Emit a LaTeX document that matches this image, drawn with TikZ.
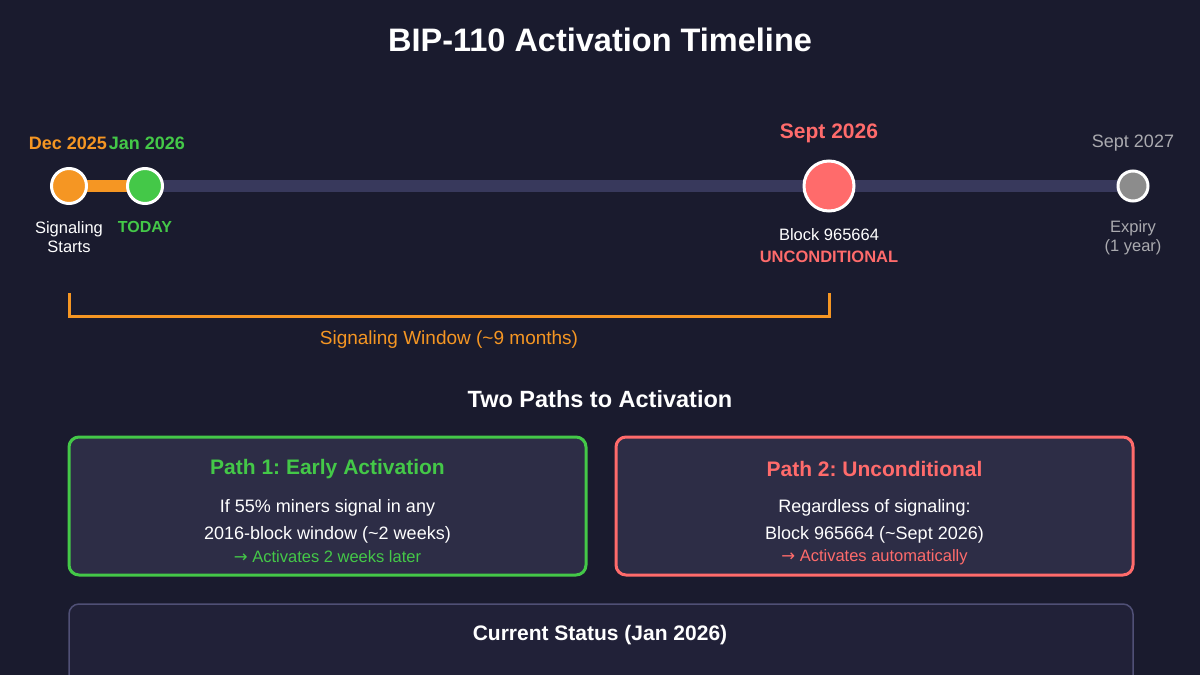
\documentclass[tikz,border=0pt]{standalone}
\usepackage{fontspec}
\setmainfont{Liberation Sans}
\newfontfamily\arrowfont{DejaVu Sans}
\frenchspacing
\usetikzlibrary{positioning}
\definecolor{bipbg}{RGB}{26, 27, 46}
\definecolor{biptrack}{RGB}{56, 57, 92}
\definecolor{biporange}{RGB}{245, 150, 35}
\definecolor{bipgreen}{RGB}{68, 200, 72}
\definecolor{bipred}{RGB}{255, 107, 107}
\definecolor{bipgray}{RGB}{140, 140, 140}
\definecolor{biplight}{RGB}{170, 170, 175}
\definecolor{bipbox}{RGB}{45, 45, 70}
\definecolor{bipstatus}{RGB}{33, 33, 56}
\definecolor{bipedge}{RGB}{80, 80, 118}

\begin{document}
\begin{tikzpicture}[x=1pt, y=-1pt,
    dot/.style={circle, draw=white, line width=3pt, inner sep=0pt},
    track/.style={biptrack, line width=12pt},
    datelbl/.style={font=\fontsize{18}{22}\selectfont\bfseries},
    sublbl/.style={font=\fontsize{16.5}{19}\selectfont, align=center},
    pathbox/.style={line width=3pt, rounded corners=10pt, fill=bipbox},
    boxhead/.style={font=\fontsize{21}{25}\selectfont\bfseries},
    boxtxt/.style={font=\fontsize{18}{22}\selectfont, text=white},
    boxnote/.style={font=\fontsize{16.5}{20}\selectfont}]

% === Fondo ===
\fill[bipbg] (0, 0) rectangle (1200, 675);
\useasboundingbox (0, 0) rectangle (1200, 675);
\clip (0, 0) rectangle (1200, 675);

\node[font=\fontsize{32.5}{38}\selectfont\bfseries, text=white] (title) at (600, 40) {BIP-110 Activation Timeline};

% === Linea de tiempo ===
\coordinate (tdec) at (69, 186);
\coordinate (tjan) at (145, 186);
\coordinate (tsep) at (829, 186);
\coordinate (texp) at (1133, 186);
\draw[track] (tjan) -- (texp);
\draw[track, biporange] (tdec) -- (tjan);

\node[dot, fill=biporange, minimum size=35pt] (dec) at (tdec) {};
\node[dot, fill=bipgreen, minimum size=35pt] (jan) at (tjan) {};
\node[dot, fill=bipred, minimum size=50pt] (sep) at (tsep) {};
\node[dot, fill=bipgray, minimum size=30pt] (exp) at (texp) {};

% Fechas
\node[datelbl, text=biporange] (declbl) at (68, 143) {Dec 2025};
\node[datelbl, text=bipgreen] (janlbl) at (147, 143) {Jan 2026};
\node[font=\fontsize{21}{25}\selectfont\bfseries, text=bipred] (seplbl) at (829, 133) {Sept 2026};
\node[font=\fontsize{18}{22}\selectfont, text=biplight] (explbl) at (1133, 143) {Sept 2027};

% Etiquetas
\node[sublbl, text=white] (decsub) at (69, 237.5) {Signaling\\Starts};
\node[sublbl, text=bipgreen, font=\fontsize{16}{19}\selectfont\bfseries] (jansub) at (145, 227) {TODAY};
\node[sublbl, text=white] (sepsub) at (829, 235) {Block 965664};
\node[sublbl, text=bipred, font=\fontsize{16.5}{19}\selectfont\bfseries] (sepsub2) at (829, 257) {UNCONDITIONAL};
\node[sublbl, text=biplight] (expsub) at (1133, 238) {Expiry\\(1 year)};

% === Ventana de senalizacion ===
\coordinate (wl) at (69, 293);
\coordinate (wr) at (829, 293);
\draw[biporange, line width=3pt] (wl) -- ++(0, 23) -| (wr);
\node[font=\fontsize{19}{23}\selectfont, text=biporange] (wlbl) at (449, 340) {Signaling Window (\textasciitilde9 months)};

% === Dos caminos ===
\node[font=\fontsize{23.5}{28}\selectfont\bfseries, text=white] (paths) at (600, 399) {Two Paths to Activation};

\draw[pathbox, draw=bipgreen] (69, 437) rectangle (586, 575);
\node[boxhead, text=bipgreen] (p1head) at (327.5, 469) {Path 1: Early Activation};
\node[boxtxt] (p1a) at (327.5, 508) {If 55\% miners signal in any};
\node[boxtxt] (p1b) at (327.5, 535) {2016-block window (\textasciitilde2 weeks)};
\node[boxnote, text=bipgreen] (p1c) at (327.5, 557) {{\arrowfont →} Activates 2 weeks later};

\draw[pathbox, draw=bipred] (616, 437) rectangle (1133, 575);
\node[boxhead, text=bipred] (p2head) at (874.5, 469) {Path 2: Unconditional};
\node[boxtxt] (p2a) at (874.5, 508) {Regardless of signaling:};
\node[boxtxt] (p2b) at (874.5, 535) {Block 965664 (\textasciitilde Sept 2026)};
\node[boxnote, text=bipred] (p2c) at (874.5, 557) {{\arrowfont →} Activates automatically};

% === Estado actual ===
\draw[bipedge, line width=1.5pt, fill=bipstatus, rounded corners=10pt] (69, 604) rectangle (1133, 720);
\node[boxhead, text=white] (status) at (600, 635) {Current Status (Jan 2026)};

\end{tikzpicture}
\end{document}
